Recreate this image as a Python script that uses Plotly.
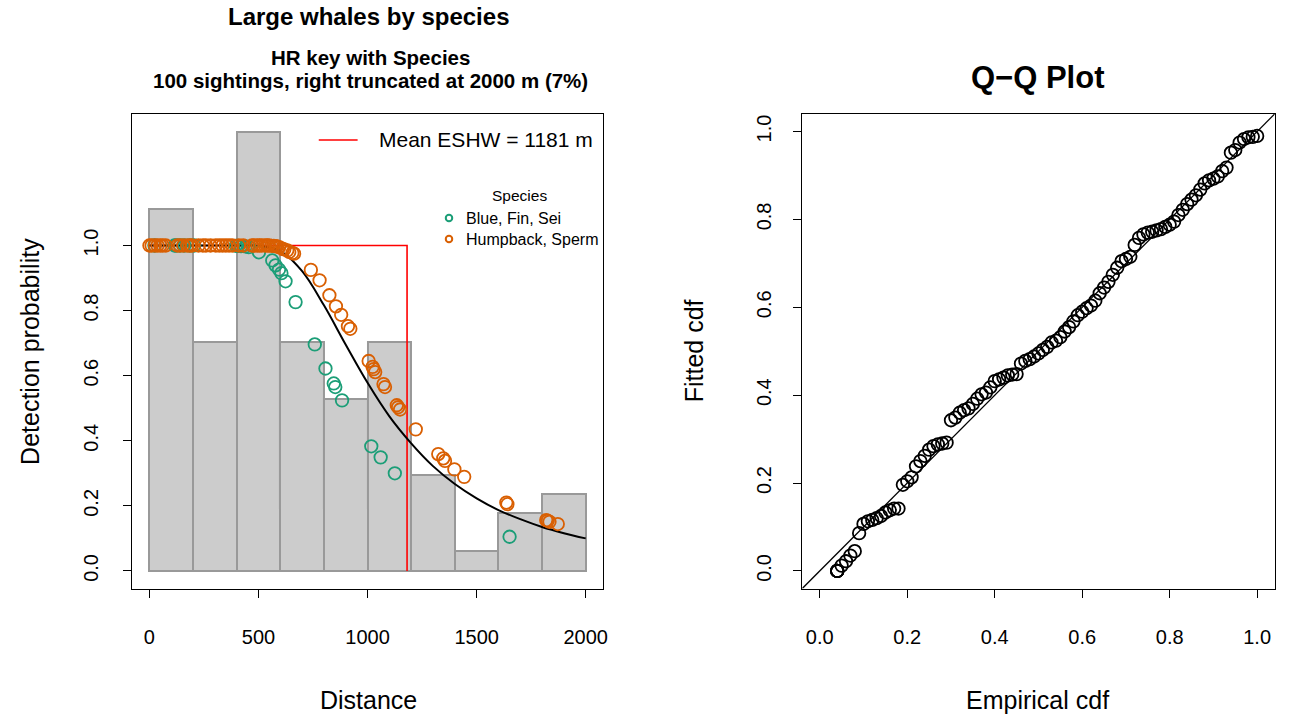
import plotly.graph_objects as go

# ---------------- data ----------------
bin_centers = [100, 300, 500, 700, 900, 1100, 1300, 1500, 1700, 1900]
bin_heights = [1.113, 0.702, 1.350, 0.702, 0.528, 0.702, 0.294, 0.061, 0.178, 0.236]

curve_dist = [0, 100, 200, 300, 400, 500, 600, 700, 800, 900, 1000, 1100, 1200,
              1300, 1400, 1500, 1600, 1700, 1800, 1900, 2000]
curve_prob = [1.0, 1.0, 1.0, 1.0, 1.0, 0.999, 0.983, 0.921, 0.816, 0.695, 0.578,
              0.475, 0.392, 0.322, 0.267, 0.223, 0.187, 0.159, 0.135, 0.116, 0.100]

eshw = 1181

green_dist = [23, 115, 122, 140, 160, 185, 205, 396, 405, 420, 440, 455, 502, 563,
              578, 594, 605, 624, 670, 758, 807, 845, 852, 883, 1017, 1060, 1125, 1651]
green_prob = [1.0, 1.0, 1.0, 1.0, 1.0, 1.0, 1.0, 0.999, 0.999, 0.998, 0.997, 0.995,
              0.979, 0.954, 0.939, 0.926, 0.915, 0.89, 0.826, 0.696, 0.622, 0.576,
              0.565, 0.524, 0.383, 0.349, 0.30, 0.105]

orange_dist = [0, 10, 25, 37, 50, 61, 75, 128, 140, 155, 173, 185, 195,
               225, 245, 259, 280, 304, 320, 335, 350, 365, 380,
               410, 430, 470, 480, 495, 505, 515, 530, 540, 548, 560, 570, 578, 585, 595,
               609, 618, 632, 641, 655, 663, 740, 780,
               825, 855, 879, 910, 921,
               1005, 1023, 1028, 1035, 1073, 1080, 1134, 1140, 1149,
               1221, 1324, 1347, 1355, 1398,
               1443, 1636, 1641, 1819, 1826, 1834, 1872]
orange_prob = [1.0, 1.0, 1.0, 1.0, 1.0, 1.0, 1.0, 1.0, 1.0, 1.0, 1.0, 1.0, 1.0,
               1.0, 1.0, 1.0, 1.0, 1.0, 1.0, 1.0, 1.0, 1.0, 1.0,
               1.0, 1.0, 1.0, 1.0, 1.0, 1.0, 1.0, 1.0, 1.0, 1.0, 0.999, 0.999, 0.998, 0.997, 0.995,
               0.99, 0.988, 0.985, 0.98, 0.977, 0.975, 0.925, 0.893,
               0.847, 0.813, 0.787, 0.752, 0.744,
               0.645, 0.627, 0.62, 0.611, 0.574, 0.565, 0.509, 0.503, 0.496,
               0.435, 0.359, 0.346, 0.338, 0.312,
               0.289, 0.21, 0.205, 0.156, 0.154, 0.151, 0.144]

qq_emp = [0.04, 0.04, 0.04, 0.04, 0.05, 0.06, 0.07, 0.08, 0.09, 0.10, 0.11, 0.12, 0.13,
          0.14, 0.15, 0.16, 0.17, 0.18, 0.19, 0.20, 0.21, 0.22, 0.23, 0.24, 0.25, 0.26,
          0.27, 0.28, 0.29, 0.30, 0.31, 0.32, 0.33, 0.34, 0.35, 0.36, 0.37, 0.38, 0.39,
          0.40, 0.41, 0.42, 0.43, 0.44, 0.45, 0.46, 0.47, 0.48, 0.49, 0.50, 0.51, 0.52,
          0.53, 0.54, 0.55, 0.56, 0.57, 0.58, 0.59, 0.60, 0.61, 0.62, 0.63, 0.64, 0.65,
          0.66, 0.67, 0.68, 0.69, 0.70, 0.71, 0.72, 0.73, 0.74, 0.75, 0.76, 0.77, 0.78,
          0.79, 0.80, 0.81, 0.82, 0.83, 0.84, 0.85, 0.86, 0.87, 0.88, 0.89, 0.90, 0.91,
          0.92, 0.93, 0.94, 0.95, 0.96, 0.97, 0.98, 0.99, 1.00]
qq_fit = [0.0, 0.0, 0.0, 0.0, 0.012, 0.022, 0.035, 0.045, 0.086, 0.107, 0.113, 0.116, 0.12,
          0.125, 0.133, 0.138, 0.142, 0.142, 0.196, 0.204, 0.213, 0.238, 0.25, 0.262, 0.276,
          0.284, 0.288, 0.29, 0.292, 0.343, 0.349, 0.36, 0.366, 0.37, 0.38, 0.392, 0.402,
          0.406, 0.418, 0.432, 0.436, 0.44, 0.445, 0.447, 0.448, 0.472, 0.478, 0.482, 0.488,
          0.495, 0.503, 0.51, 0.52, 0.524, 0.532, 0.545, 0.555, 0.568, 0.582, 0.59, 0.598,
          0.604, 0.615, 0.632, 0.645, 0.658, 0.674, 0.69, 0.705, 0.71, 0.715, 0.742, 0.758,
          0.766, 0.77, 0.772, 0.775, 0.778, 0.783, 0.788, 0.795, 0.81, 0.822, 0.835, 0.845,
          0.855, 0.868, 0.882, 0.889, 0.893, 0.898, 0.91, 0.918, 0.952, 0.958, 0.975, 0.983,
          0.987, 0.988, 0.99]

x1_ticks = [0, 500, 1000, 1500, 2000]
y1_ticks = [0.0, 0.2, 0.4, 0.6, 0.8, 1.0]
qq_ticks = [0.0, 0.2, 0.4, 0.6, 0.8, 1.0]

species_names = ["Blue, Fin, Sei", "Humpback, Sperm"]

# ---------------- figure ----------------
FONT = "Liberation Sans, Arial, sans-serif"
GREEN = "#1B9E77"
ORANGE = "#D95F02"

fig = go.Figure()

fig.add_trace(go.Bar(x=bin_centers, y=bin_heights, width=200, base=0,
                     marker=dict(color="#cccccc", line=dict(color="#999999", width=2)),
                     showlegend=False, xaxis="x", yaxis="y"))

fig.add_trace(go.Scatter(x=[0, eshw, eshw], y=[1, 1, 0], mode="lines",
                         line=dict(color="#ff0000", width=1.6), showlegend=False,
                         xaxis="x", yaxis="y"))

fig.add_trace(go.Scatter(x=curve_dist, y=curve_prob, mode="lines", line_shape="spline",
                         line=dict(color="black", width=2), showlegend=False,
                         xaxis="x", yaxis="y"))

for xs, ys, col, nm in [(green_dist, green_prob, GREEN, species_names[0]),
                        (orange_dist, orange_prob, ORANGE, species_names[1])]:
    fig.add_trace(go.Scatter(x=xs, y=ys, mode="markers", name=nm,
                             marker=dict(symbol="circle-open", size=12.5, color=col,
                                         line=dict(width=1.8, color=col)),
                             showlegend=False, xaxis="x", yaxis="y"))

fig.add_trace(go.Scatter(x=[-0.04, 1.04], y=[-0.04, 1.04], mode="lines",
                         line=dict(color="black", width=1.3), showlegend=False,
                         xaxis="x2", yaxis="y2"))
fig.add_trace(go.Scatter(x=qq_emp, y=qq_fit, mode="markers",
                         marker=dict(symbol="circle-open", size=12.5, color="black",
                                     line=dict(width=1.8, color="black")),
                         showlegend=False, xaxis="x2", yaxis="y2"))

W, H = 1290, 719
ydom = [1 - 588.5 / H, 1 - 114.0 / H]

axis_common = dict(showgrid=False, zeroline=False, showline=True, linecolor="black",
                   linewidth=1.3, mirror=True, ticks="outside", ticklen=8,
                   tickcolor="black", tickwidth=1.3,
                   tickfont=dict(family=FONT, size=20, color="black"))

fig.update_layout(
    width=W, height=H, margin=dict(l=0, r=0, t=0, b=0),
    paper_bgcolor="white", plot_bgcolor="white",
    font=dict(family=FONT, color="black"),
    bargap=0, showlegend=False,
    xaxis=dict(domain=[132.5 / W, 605.5 / W], range=[-80, 2080],
               tickvals=x1_ticks, ticklabelstandoff=22, **axis_common),
    yaxis=dict(domain=ydom, range=[-0.054, 1.404], tickvals=y1_ticks,
               ticktext=[f"{v:.1f}" for v in y1_ticks], tickangle=-90,
               ticklabelstandoff=17, **axis_common),
    xaxis2=dict(domain=[805.4 / W, 1279.6 / W], range=[-0.04, 1.04], anchor="y2",
                tickvals=qq_ticks, ticktext=[f"{v:.1f}" for v in qq_ticks],
                ticklabelstandoff=22, **axis_common),
    yaxis2=dict(domain=ydom, range=[-0.04, 1.04], anchor="x2", tickvals=qq_ticks,
                ticktext=[f"{v:.1f}" for v in qq_ticks], tickangle=-90,
                ticklabelstandoff=14, **axis_common),
)

def px_x(p):
    return p / W

def px_y(p):
    return 1 - p / H

annos = [
    dict(text="<b>Large whales by species</b>", x=370, y=17, size=24),
    dict(text="<b>HR key with Species</b>", x=372, y=57, size=20.5),
    dict(text="<b>100 sightings, right truncated at 2000 m (7%)</b>", x=372, y=81, size=20.5),
    dict(text="<b>Q\u2212Q Plot</b>", x=1042, y=78, size=31),
    dict(text="Distance", x=370, y=700, size=25),
    dict(text="Empirical cdf", x=1042, y=700, size=25),
]
for a in annos:
    fig.add_annotation(text=a["text"], x=px_x(a["x"]), y=px_y(a["y"]), xref="paper",
                       yref="paper", xanchor="center", yanchor="middle", showarrow=False,
                       font=dict(family=FONT, size=a["size"], color="black"))
for txt, xp in [("Detection probability", 30), ("Fitted cdf", 697)]:
    fig.add_annotation(text=txt, x=px_x(xp), y=px_y(351), xref="paper", yref="paper",
                       xanchor="center", yanchor="middle", showarrow=False, textangle=-90,
                       font=dict(family=FONT, size=25, color="black"))

# ---- manual legends (as in the R figure) ----
fig.add_shape(type="line", xref="paper", yref="paper",
              x0=px_x(320), x1=px_x(359), y0=px_y(140), y1=px_y(140),
              line=dict(color="#ff0000", width=1.6))
fig.add_annotation(text=f"Mean ESHW = {eshw} m", x=px_x(378), y=px_y(140),
                   xref="paper", yref="paper", xanchor="left", yanchor="middle",
                   showarrow=False, font=dict(family=FONT, size=21, color="black"))
fig.add_annotation(text="Species", x=px_x(522), y=px_y(195), xref="paper", yref="paper",
                   xanchor="center", yanchor="middle", showarrow=False,
                   font=dict(family=FONT, size=15.5, color="black"))
for nm, col, yy in [(species_names[0], GREEN, 218), (species_names[1], ORANGE, 239)]:
    fig.add_shape(type="circle", xref="paper", yref="paper",
                  x0=px_x(447.5), x1=px_x(454), y0=px_y(yy + 3.25), y1=px_y(yy - 3.25),
                  line=dict(color=col, width=2))
    fig.add_annotation(text=nm, x=px_x(466), y=px_y(yy), xref="paper", yref="paper",
                       xanchor="left", yanchor="middle", showarrow=False,
                       font=dict(family=FONT, size=16, color="black"))

fig.write_html("out.html")
